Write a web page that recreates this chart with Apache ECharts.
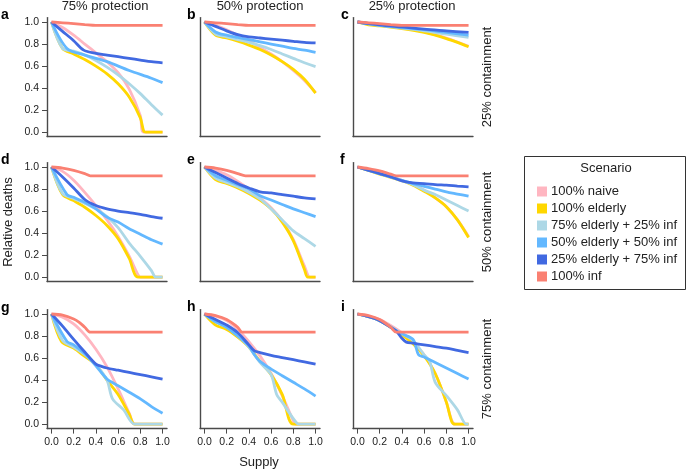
<!DOCTYPE html>
<html>
<head>
<meta charset="utf-8">
<script src="https://cdn.jsdelivr.net/npm/echarts@6/dist/echarts.min.js"></script>
<style>
html,body{margin:0;padding:0;background:#fff;}
#chart{width:687px;height:470px;}
</style>
</head>
<body>
<div id="chart"></div>
<script>
// scenario names + colours
var scenarios = ['100% naive','100% elderly','75% elderly + 25% inf','50% elderly + 50% inf','25% elderly + 75% inf','100% inf'];
var colors = ['#FFB6C1','#FFD700','#ADD8E6','#63B8FF','#4169E1','#FA8072'];
var colTitles = ['75% protection','50% protection','25% protection'];
var rowTitles = ['25% containment','50% containment','75% containment'];
var panelLetters = ['a','b','c','d','e','f','g','h','i'];
var tickVals = [0,0.2,0.4,0.6,0.8,1.0];

// panel a
var aNaive = [[0,1],[0.1,0.95],[0.2,0.88],[0.3,0.80],[0.4,0.72],[0.5,0.64],[0.6,0.54],[0.7,0.39],[0.8,0.15],[0.83,0],[1,0]];
var aElderly = [[0,1],[0.1,0.76],[0.2,0.71],[0.3,0.66],[0.4,0.60],[0.5,0.53],[0.6,0.44],[0.7,0.32],[0.8,0.13],[0.83,0.01],[0.85,0],[1,0]];
var aE75 = [[0,1],[0.1,0.76],[0.2,0.735],[0.3,0.70],[0.4,0.65],[0.5,0.59],[0.6,0.52],[0.7,0.44],[0.8,0.35],[0.9,0.25],[1,0.155]];
var aE50 = [[0,1],[0.14,0.76],[0.3,0.70],[0.5,0.64],[0.7,0.56],[0.9,0.49],[1,0.45]];
var aE25 = [[0,1],[0.1,0.915],[0.2,0.83],[0.29,0.745],[0.4,0.715],[0.5,0.70],[0.6,0.685],[0.7,0.67],[0.8,0.655],[0.9,0.64],[1,0.63]];
var aInf = [[0,1],[0.1,0.993],[0.2,0.985],[0.3,0.977],[0.4,0.97],[1,0.97]];
// panel b
var bNaive = [[0,1],[0.1,0.97],[0.2,0.93],[0.3,0.88],[0.4,0.83],[0.5,0.77],[0.6,0.71],[0.7,0.64],[0.8,0.56],[0.9,0.47],[1,0.36]];
var bElderly = [[0,1],[0.1,0.88],[0.2,0.855],[0.3,0.825],[0.4,0.79],[0.5,0.75],[0.6,0.70],[0.7,0.64],[0.8,0.57],[0.9,0.48],[1,0.355]];
var bE75 = [[0,1],[0.1,0.89],[0.2,0.865],[0.3,0.84],[0.4,0.815],[0.5,0.785],[0.6,0.75],[0.7,0.71],[0.8,0.67],[0.9,0.63],[1,0.595]];
var bE50 = [[0,1],[0.1,0.91],[0.2,0.88],[0.3,0.86],[0.4,0.84],[0.5,0.82],[0.6,0.80],[0.7,0.78],[0.8,0.76],[0.9,0.745],[1,0.725]];
var bE25 = [[0,1],[0.1,0.96],[0.2,0.92],[0.3,0.885],[0.4,0.865],[0.5,0.855],[0.6,0.845],[0.7,0.835],[0.8,0.825],[0.9,0.815],[1,0.81]];
var bInf = [[0,1],[0.1,0.993],[0.2,0.985],[0.3,0.977],[0.4,0.97],[1,0.97]];
// panel c
var cNaive = [[0,1],[0.2,0.975],[0.4,0.95],[0.6,0.91],[0.8,0.855],[1,0.78]];
var cElderly = [[0,1],[0.1,0.975],[0.2,0.965],[0.4,0.94],[0.6,0.905],[0.8,0.85],[0.9,0.815],[1,0.775]];
var cE75 = [[0,1],[0.2,0.97],[0.4,0.945],[0.6,0.92],[0.8,0.89],[1,0.86]];
var cE50 = [[0,1],[0.2,0.97],[0.4,0.95],[0.6,0.93],[0.8,0.905],[1,0.88]];
var cE25 = [[0,1],[0.2,0.975],[0.4,0.955],[0.6,0.935],[0.8,0.92],[1,0.905]];
var cInf = [[0,1],[0.1,0.993],[0.2,0.985],[0.3,0.977],[0.4,0.97],[1,0.97]];
// panel d
var dNaive = [[0,1],[0.1,0.96],[0.2,0.88],[0.3,0.77],[0.4,0.65],[0.5,0.52],[0.6,0.37],[0.7,0.19],[0.78,0.02],[0.8,0],[1,0]];
var dElderly = [[0,1],[0.1,0.75],[0.2,0.695],[0.3,0.635],[0.4,0.56],[0.5,0.47],[0.6,0.35],[0.7,0.17],[0.78,0],[1,0]];
var dE75 = [[0,1],[0.1,0.76],[0.2,0.715],[0.3,0.67],[0.4,0.62],[0.5,0.55],[0.6,0.45],[0.7,0.31],[0.8,0.19],[0.9,0.06],[0.94,0],[1,0]];
var dE50 = [[0,1],[0.14,0.75],[0.2,0.725],[0.3,0.68],[0.4,0.62],[0.5,0.545],[0.6,0.50],[0.7,0.44],[0.8,0.39],[0.9,0.34],[1,0.30]];
var dE25 = [[0,1],[0.1,0.91],[0.2,0.81],[0.3,0.705],[0.4,0.65],[0.5,0.62],[0.6,0.60],[0.7,0.585],[0.8,0.57],[0.9,0.55],[1,0.535]];
var dInf = [[0,1],[0.1,0.99],[0.2,0.97],[0.3,0.94],[0.35,0.92],[1,0.92]];
// panel e
var eNaive = [[0,1],[0.1,0.97],[0.2,0.93],[0.3,0.87],[0.4,0.80],[0.5,0.72],[0.6,0.63],[0.7,0.51],[0.8,0.34],[0.9,0.1],[0.95,0],[1,0]];
var eElderly = [[0,1],[0.1,0.885],[0.2,0.85],[0.3,0.81],[0.4,0.76],[0.5,0.70],[0.6,0.62],[0.7,0.50],[0.8,0.33],[0.9,0.07],[0.93,0],[1,0]];
var eE75 = [[0,1],[0.1,0.90],[0.2,0.86],[0.3,0.82],[0.4,0.77],[0.5,0.71],[0.6,0.62],[0.7,0.52],[0.8,0.42],[0.9,0.35],[1,0.28]];
var eE50 = [[0,1],[0.1,0.92],[0.2,0.88],[0.3,0.84],[0.4,0.80],[0.5,0.74],[0.6,0.70],[0.7,0.66],[0.8,0.62],[0.9,0.585],[1,0.55]];
var eE25 = [[0,1],[0.1,0.95],[0.2,0.90],[0.3,0.85],[0.4,0.81],[0.5,0.775],[0.6,0.765],[0.7,0.75],[0.8,0.735],[0.9,0.72],[1,0.71]];
var eInf = [[0,1],[0.1,0.99],[0.2,0.97],[0.3,0.94],[0.37,0.92],[1,0.92]];
// panel f
var fNaive = [[0,1],[0.2,0.945],[0.4,0.88],[0.5,0.84],[0.6,0.79],[0.7,0.72],[0.8,0.64],[0.9,0.52],[1,0.37]];
var fElderly = [[0,1],[0.2,0.935],[0.4,0.875],[0.5,0.835],[0.6,0.78],[0.7,0.72],[0.8,0.64],[0.9,0.52],[1,0.36]];
var fE75 = [[0,1],[0.2,0.94],[0.4,0.875],[0.5,0.84],[0.6,0.79],[0.7,0.75],[0.8,0.70],[0.9,0.65],[1,0.60]];
var fE50 = [[0,1],[0.2,0.94],[0.4,0.88],[0.5,0.85],[0.6,0.825],[0.7,0.80],[0.8,0.775],[0.9,0.755],[1,0.735]];
var fE25 = [[0,1],[0.1,0.97],[0.2,0.94],[0.3,0.91],[0.4,0.875],[0.5,0.855],[0.6,0.85],[0.7,0.84],[0.8,0.835],[0.9,0.827],[1,0.82]];
var fInf = [[0,1],[0.1,0.985],[0.2,0.965],[0.3,0.935],[0.35,0.92],[1,0.92]];
// panel g
var gNaive = [[0,1],[0.1,0.97],[0.2,0.91],[0.3,0.81],[0.4,0.68],[0.5,0.52],[0.6,0.32],[0.7,0.10],[0.75,0],[1,0]];
var gElderly = [[0,1],[0.09,0.75],[0.2,0.69],[0.3,0.615],[0.4,0.54],[0.5,0.40],[0.6,0.27],[0.7,0.09],[0.75,0],[1,0]];
var gE75 = [[0,1],[0.1,0.76],[0.2,0.70],[0.3,0.63],[0.4,0.54],[0.5,0.40],[0.55,0.23],[0.65,0.13],[0.75,0],[1,0]];
var gE50 = [[0,1],[0.14,0.75],[0.2,0.72],[0.3,0.64],[0.4,0.53],[0.5,0.41],[0.6,0.35],[0.7,0.29],[0.8,0.23],[0.9,0.16],[1,0.10]];
var gE25 = [[0,1],[0.1,0.89],[0.2,0.77],[0.3,0.655],[0.4,0.545],[0.45,0.525],[0.5,0.51],[0.6,0.49],[0.7,0.47],[0.8,0.45],[0.9,0.43],[1,0.41]];
var gInf = [[0,1],[0.1,0.99],[0.2,0.955],[0.25,0.925],[0.3,0.88],[0.35,0.835],[1,0.835]];
// panel h
var hNaive = [[0,1],[0.1,0.98],[0.2,0.94],[0.3,0.86],[0.4,0.75],[0.5,0.62],[0.6,0.46],[0.7,0.26],[0.8,0.03],[0.82,0],[1,0]];
var hElderly = [[0,1],[0.1,0.90],[0.2,0.86],[0.3,0.79],[0.4,0.70],[0.5,0.57],[0.6,0.45],[0.7,0.27],[0.8,0],[1,0]];
var hE75 = [[0,1],[0.1,0.93],[0.2,0.88],[0.3,0.80],[0.4,0.70],[0.5,0.56],[0.6,0.45],[0.65,0.27],[0.7,0.20],[0.8,0.05],[0.85,0],[1,0]];
var hE50 = [[0,1],[0.1,0.93],[0.2,0.88],[0.3,0.80],[0.4,0.71],[0.45,0.63],[0.5,0.57],[0.6,0.5],[0.7,0.44],[0.8,0.38],[0.9,0.32],[1,0.255]];
var hE25 = [[0,1],[0.1,0.95],[0.2,0.9],[0.3,0.83],[0.4,0.72],[0.45,0.665],[0.5,0.65],[0.6,0.625],[0.7,0.605],[0.8,0.585],[0.9,0.565],[1,0.545]];
var hInf = [[0,1],[0.1,0.985],[0.2,0.95],[0.3,0.88],[0.34,0.835],[1,0.835]];
// panel i
var iNaive = [[0,1],[0.2,0.95],[0.4,0.83],[0.5,0.74],[0.6,0.63],[0.7,0.46],[0.8,0.2],[0.85,0.03],[0.88,0],[1,0]];
var iElderly = [[0,1],[0.2,0.94],[0.4,0.81],[0.5,0.73],[0.6,0.62],[0.7,0.46],[0.8,0.2],[0.85,0.02],[0.88,0],[1,0]];
var iE75 = [[0,1],[0.2,0.94],[0.4,0.82],[0.5,0.76],[0.6,0.63],[0.65,0.57],[0.7,0.38],[0.8,0.26],[0.9,0.13],[0.98,0],[1,0]];
var iE50 = [[0,1],[0.1,0.975],[0.2,0.94],[0.3,0.88],[0.4,0.82],[0.5,0.77],[0.55,0.63],[0.6,0.61],[0.7,0.56],[0.8,0.51],[0.9,0.46],[1,0.41]];
var iE25 = [[0,1],[0.1,0.975],[0.2,0.94],[0.3,0.88],[0.35,0.845],[0.4,0.78],[0.44,0.745],[0.5,0.735],[0.6,0.72],[0.7,0.705],[0.8,0.69],[0.9,0.67],[1,0.65]];
var iInf = [[0,1],[0.1,0.985],[0.2,0.95],[0.3,0.88],[0.35,0.835],[1,0.835]];

var panels = [
  [aNaive,aElderly,aE75,aE50,aE25,aInf],
  [bNaive,bElderly,bE75,bE50,bE25,bInf],
  [cNaive,cElderly,cE75,cE50,cE25,cInf],
  [dNaive,dElderly,dE75,dE50,dE25,dInf],
  [eNaive,eElderly,eE75,eE50,eE25,eInf],
  [fNaive,fElderly,fE75,fE50,fE25,fInf],
  [gNaive,gElderly,gE75,gE50,gE25,gInf],
  [hNaive,hElderly,hE75,hE50,hE25,hInf],
  [iNaive,iElderly,iE75,iE50,iE25,iInf]
];

var FONT = '"Liberation Sans", Arial, sans-serif';
var colLeft = [47, 200, 353];
var rowTop = [17.6, 162.6, 309.6];

var chart = echarts.init(document.getElementById('chart'));
var grids = [], xAxes = [], yAxes = [], series = [], graphics = [];

for (var p = 0; p < 9; p++) {
  var r = Math.floor(p / 3), c = p % 3;
  grids.push({left: colLeft[c], top: rowTop[r], width: 120, height: 119});
  var axLine = {show: true, onZero: false, lineStyle: {color: '#4a4a4a', width: 1.4}};
  xAxes.push({
    type: 'value', gridIndex: p, min: -0.04, max: 1.04,
    axisLine: axLine, splitLine: {show: false},
    axisTick: {show: r == 2, customValues: tickVals, length: 5, lineStyle: {color: '#4a4a4a'}},
    axisLabel: {show: r == 2, customValues: tickVals, margin: 8, fontSize: 10.5, color: '#222', fontFamily: FONT,
      formatter: function(v){ return v.toFixed(1); }}
  });
  yAxes.push({
    type: 'value', gridIndex: p, min: -0.04, max: 1.04,
    axisLine: axLine, splitLine: {show: false},
    axisTick: {show: c == 0, customValues: tickVals, length: 5, lineStyle: {color: '#4a4a4a'}},
    axisLabel: {show: c == 0, customValues: tickVals, margin: 8, fontSize: 10.5, color: '#222', fontFamily: FONT,
      formatter: function(v){ return v.toFixed(1); }}
  });
  for (var s = 0; s < 6; s++) {
    series.push({
      name: scenarios[s], type: 'line', xAxisIndex: p, yAxisIndex: p,
      data: panels[p][s], showSymbol: false, smooth: 0.3,
      color: colors[s], lineStyle: {width: 2.8, color: colors[s]}, z: 2 + s
    });
  }
}

var letterPos = [[1,16],[187,16],[341,16],[1,161],[187,161],[340,161],[1,309],[187,308],[341,308]];
letterPos.forEach(function(pos, k){
  graphics.push({type: 'text', left: pos[0], top: pos[1] - 8,
    style: {text: panelLetters[k], font: 'bold 14px ' + FONT, fill: '#000'}});
});
var colCenter = [105, 260, 412];
colTitles.forEach(function(t, k){
  graphics.push({type: 'text', x: colCenter[k], y: 6,
    style: {text: t, font: '13px ' + FONT, fill: '#222', align: 'center', verticalAlign: 'middle'}});
});
var rowCenter = [77, 222, 369];
rowTitles.forEach(function(t, k){
  graphics.push({type: 'text', x: 487, y: rowCenter[k], rotation: Math.PI / 2,
    style: {text: t, font: '13px ' + FONT, fill: '#222', align: 'center', verticalAlign: 'middle'}});
});
graphics.push({type: 'text', x: 8, y: 222, rotation: Math.PI / 2,
  style: {text: 'Relative deaths', font: '13px ' + FONT, fill: '#222', align: 'center', verticalAlign: 'middle'}});
graphics.push({type: 'text', x: 259, y: 462,
  style: {text: 'Supply', font: '13px ' + FONT, fill: '#222', align: 'center', verticalAlign: 'middle'}});
// legend box
graphics.push({type: 'rect', shape: {x: 524.5, y: 156.5, width: 161, height: 133},
  style: {fill: 'none', stroke: '#333', lineWidth: 1}});
graphics.push({type: 'text', x: 606, y: 168,
  style: {text: 'Scenario', font: '13px ' + FONT, fill: '#222', align: 'center', verticalAlign: 'middle'}});

chart.setOption({
  animation: false,
  grid: grids, xAxis: xAxes, yAxis: yAxes, series: series,
  legend: {
    data: scenarios, orient: 'vertical', left: 532, top: 180,
    icon: 'rect', itemWidth: 10, itemHeight: 10, itemGap: 4,
    textStyle: {fontSize: 13, color: '#222', fontFamily: FONT, padding: [0,0,0,-1]},
    selectedMode: false
  },
  graphic: graphics
});
</script>
</body>
</html>
